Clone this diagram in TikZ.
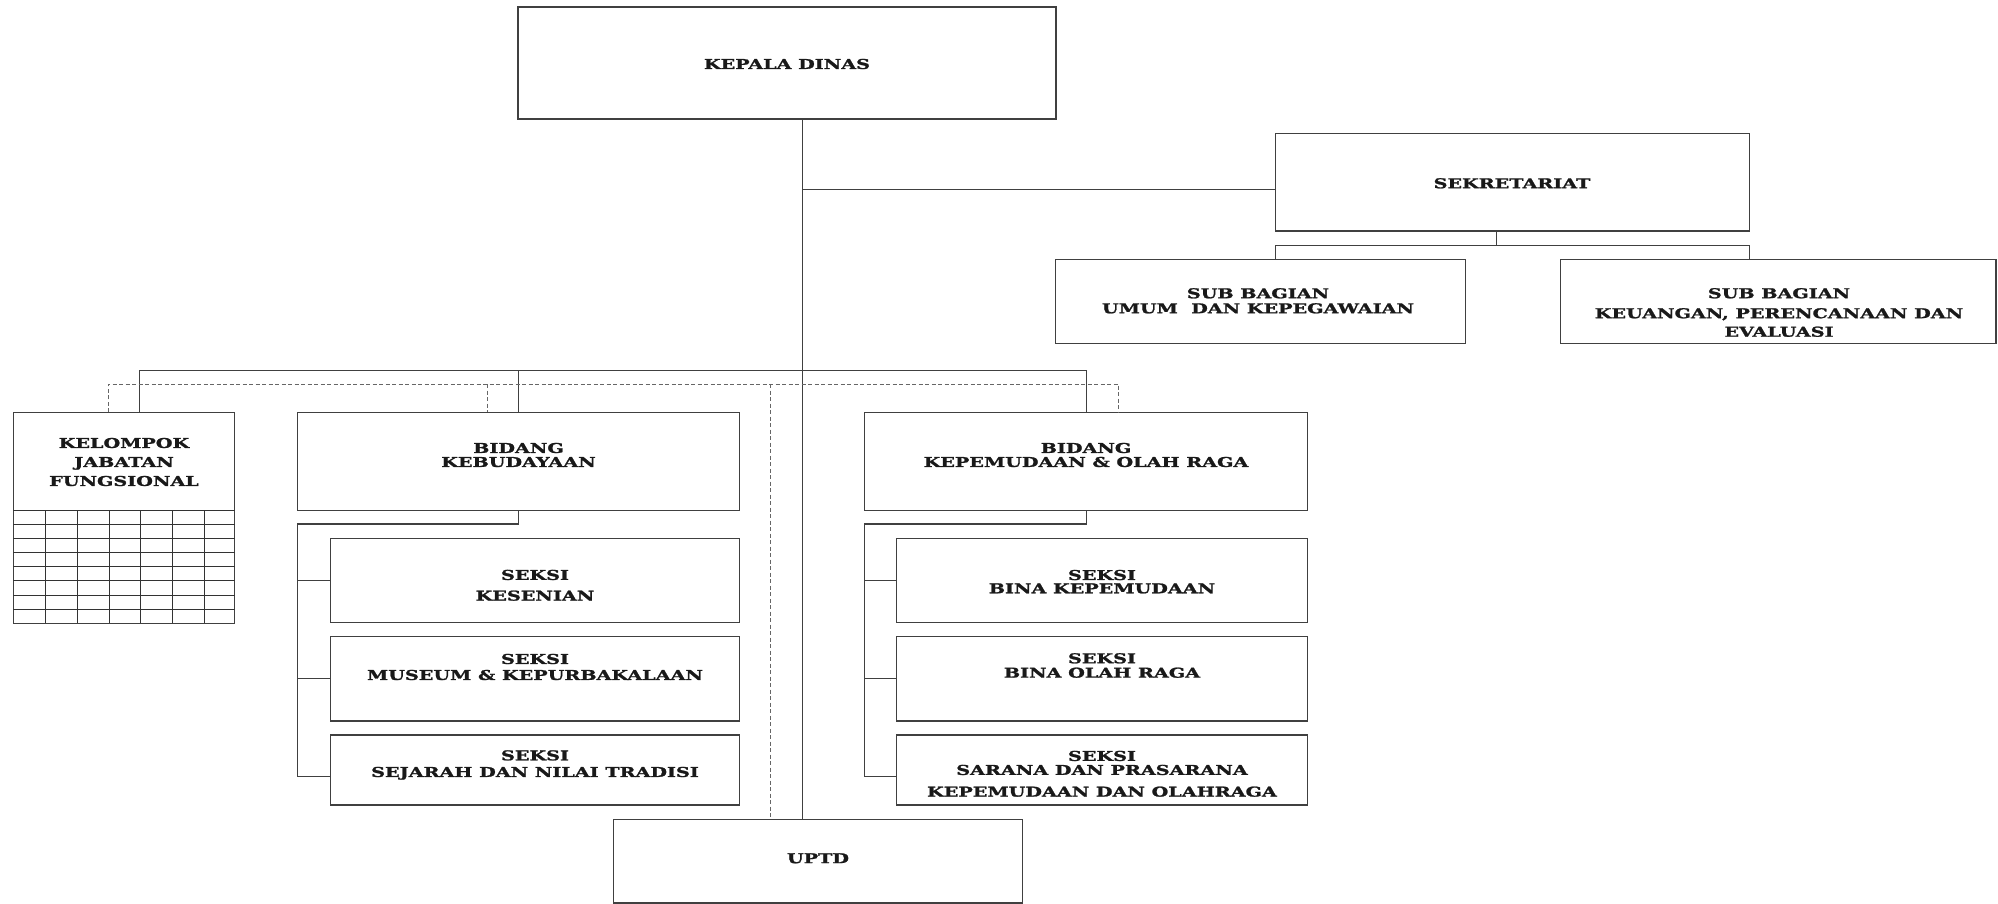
\documentclass[tikz,border=0pt]{standalone}
\usepackage{fontspec}
\newfontfamily\orgfont{DejaVu Serif}[FakeStretch=1.42, FakeBold=1.6]
\newcommand\orgtext{\orgfont\bfseries\fontsize{13.5}{14}\selectfont}
\tikzset{
  box/.style={draw=black!75, line width=1.2pt, inner sep=0pt, outer sep=0pt},
  lbl/.style={font=\orgtext, align=center, inner sep=0pt, text=black!90},
  ln/.style={draw=black!75, line width=1.2pt},
  dl/.style={draw=black!60, line width=1pt, dash pattern=on 4pt off 2.5pt},
  grd/.style={draw=black!80, line width=1pt}
}
\begin{document}
\begin{tikzpicture}[x=1pt,y=-1pt]
\fill[white] (0,0) rectangle (1998,904);
\useasboundingbox (0,0) rectangle (1998,904);
% boxes
\node[box, minimum width=538, minimum height=112] (kd) at (787,63) {};
\node[box, minimum width=473.6, minimum height=97.7] (sek) at (1512.4,182.2) {};
\node[box, minimum width=409.9, minimum height=84] (sbu) at (1260.35,301.3) {};
\node[box, minimum width=435.8, minimum height=84] (sbk) at (1778.1,301.3) {};
\node[box, minimum width=221.2, minimum height=211] (kjf) at (124,517.8) {};
\node[box, minimum width=441.7, minimum height=98.4] (keb) at (518.55,461.5) {};
\node[box, minimum width=442.7, minimum height=98.4] (kep) at (1086.15,461.5) {};
\node[box, minimum width=409.3, minimum height=84.4] (kbs1) at (534.85,580.5) {};
\node[box, minimum width=409.3, minimum height=84.3] (kbs2) at (534.85,678.85) {};
\node[box, minimum width=409.3, minimum height=70] (kbs3) at (534.85,770) {};
\node[box, minimum width=411, minimum height=84.4] (kps1) at (1102,580.5) {};
\node[box, minimum width=411, minimum height=84.3] (kps2) at (1102,678.85) {};
\node[box, minimum width=411, minimum height=70] (kps3) at (1102,770) {};
\node[box, minimum width=409.5, minimum height=83.7] (uptd) at (817.95,861.15) {};
% grid of kelompok jabatan fungsional
\foreach \y in {510,524,538.3,552.3,566.7,580.7,595,609}
  \draw[grd] (13.4,\y) -- (234.6,\y);
\foreach \x in {45.9,77.7,109.1,140.5,172.2,204}
  \draw[grd] (\x,510) -- (\x,623.3);
% labels
\node[lbl] (tkd) at (787,64) {KEPALA DINAS};
\node[lbl] (tsek) at (1512,183.3) {SEKRETARIAT};
\node[lbl] (tsbu) at (1258,300.8) {SUB BAGIAN\\[1pt]UMUM\ \ DAN KEPEGAWAIAN};
\node[lbl] (tsbk) at (1779,312.5) {SUB BAGIAN\\[6pt]KEUANGAN, PERENCANAAN DAN\\[4.5pt]EVALUASI};
\node[lbl] (tkjf) at (124,462) {KELOMPOK\\[5pt]JABATAN\\[5pt]FUNGSIONAL};
\node[lbl] (tkeb) at (518.5,455) {BIDANG\\KEBUDAYAAN};
\node[lbl] (tkep) at (1086,455) {BIDANG\\KEPEMUDAAN \& OLAH RAGA};
\node[lbl] (tkb1) at (535,585.3) {SEKSI\\[6.7pt]KESENIAN};
\node[lbl] (tkb2) at (535,667) {SEKSI\\[2pt]MUSEUM \& KEPURBAKALAAN};
\node[lbl] (tkb3) at (535,765) {SEKSI\\[2.6pt]SEJARAH DAN NILAI TRADISI};
\node[lbl] (tkp1) at (1102,581.7) {SEKSI\\[-0.7pt]BINA KEPEMUDAAN};
\node[lbl] (tkp2) at (1102,665.5) {SEKSI\\[0.4pt]BINA OLAH RAGA};
\node[lbl] (tkp3) at (1102,773.8) {SEKSI\\SARANA DAN PRASARANA\\[7.7pt]KEPEMUDAAN DAN OLAHRAGA};
\node[lbl] (tup) at (818,858.3) {UPTD};
% helper coordinates
\coordinate (trunk) at (802.5,0);
\coordinate (sekin) at (1275.6,189.3);
\coordinate (sekstem) at (1496.5,245.3);
\coordinate (bus) at (0,370.7);
\coordinate (dbus) at (0,384);
\coordinate (kjfs) at (139.7,0);
\coordinate (kjfd) at (108.3,0);
\coordinate (kebd) at (487.2,0);
\coordinate (uptdd) at (770.5,0);
\coordinate (kepd) at (1118.3,0);
\coordinate (subj) at (0,524);
\coordinate (tie3) at (0,776.7);
% connectors
\draw[ln] (kd.south -| trunk) -- (trunk |- uptd.north);
\draw[ln] (trunk |- sekin) -- (sekin);
\draw[ln] (sek.south -| sekstem) -- (sekstem);
\draw[ln] (sek.south west |- sbu.north) -- (sek.south west |- sekstem) -- (sek.south east |- sekstem) -- (sek.south east |- sbk.north);
\draw[ln] (kjfs |- kjf.north) -- (kjfs |- bus) -- (kep.north |- bus) -- (kep.north);
\draw[ln] (keb.north |- bus) -- (keb.north);
\draw[dl] (kjfd |- kjf.north) -- (kjfd |- dbus) -- (kepd |- dbus) -- (kepd |- kep.north);
\draw[dl] (kebd |- dbus) -- (kebd |- keb.north);
\draw[dl] (uptdd |- dbus) -- (uptdd |- uptd.north);
% kebudayaan sections
\draw[ln] (keb.south) -- (keb.south |- subj) -- (keb.south west |- subj) -- (keb.south west |- tie3) -- (kbs3.west |- tie3);
\draw[ln] (keb.south west |- kbs1.west) -- (kbs1.west);
\draw[ln] (keb.south west |- kbs2.west) -- (kbs2.west);
% kepemudaan sections
\draw[ln] (kep.south) -- (kep.south |- subj) -- (kep.south west |- subj) -- (kep.south west |- tie3) -- (kps3.west |- tie3);
\draw[ln] (kep.south west |- kps1.west) -- (kps1.west);
\draw[ln] (kep.south west |- kps2.west) -- (kps2.west);
\end{tikzpicture}
\end{document}
